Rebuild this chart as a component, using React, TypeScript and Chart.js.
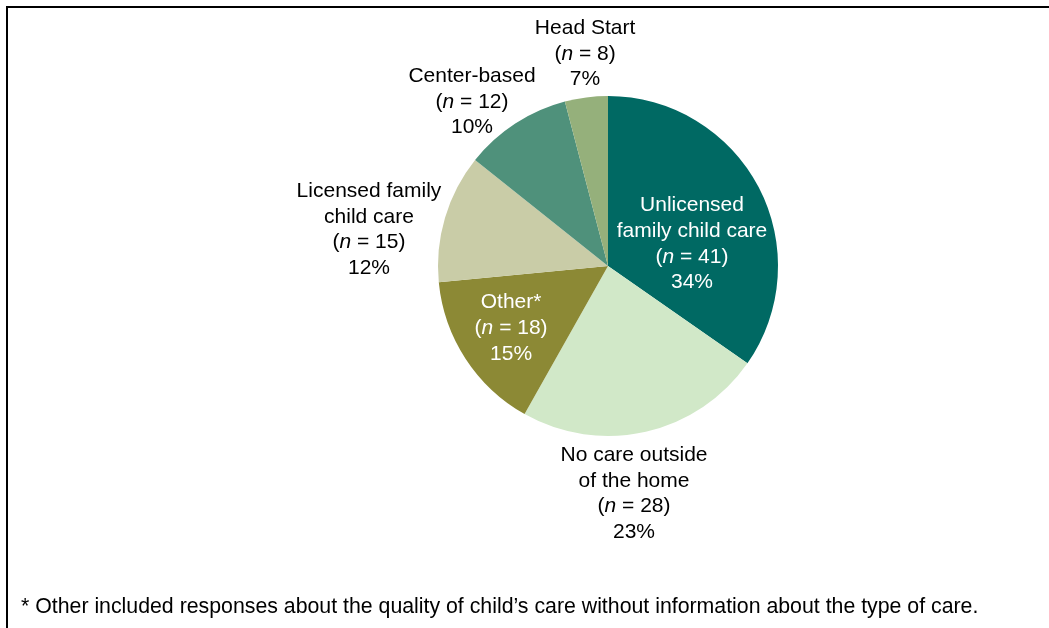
import React, { useEffect, useRef } from "react";
import { Chart, registerables } from "chart.js";

Chart.register(...registerables);

const categories = [
  "Unlicensed family child care",
  "No care outside of the home",
  "Other*",
  "Licensed family child care",
  "Center-based",
  "Head Start",
];
// slice sizes as drawn in the picture
const sliceValues = [34, 23, 15, 12, 10, 4];
const counts = [41, 28, 18, 15, 12, 8];
const percentLabels = ["34%", "23%", "15%", "12%", "10%", "7%"];
const nameLines = [
  ["Unlicensed", "family child care"],
  ["No care outside", "of the home"],
  ["Other*"],
  ["Licensed family", "child care"],
  ["Center-based"],
  ["Head Start"],
];
const sliceColors = ["#006963", "#d1e8c8", "#8c8935", "#c9cca7", "#4f917b", "#95b07b"];
const footnote =
  "* Other included responses about the quality of child\u2019s care without information about the type of care.";

// label placement relative to pie centre, in units of radius (block centre)
const labelPos = [
  { dx: 0.494, dy: -0.13, color: "#ffffff" },
  { dx: 0.153, dy: 1.34, color: "#000000" },
  { dx: -0.57, dy: 0.365, color: "#ffffff" },
  { dx: -1.406, dy: -0.213, color: "#000000" },
  { dx: -0.8, dy: -0.966, color: "#000000" },
  { dx: -0.135, dy: -1.248, color: "#000000" },
];

const FONT = "Liberation Sans, Arial, Helvetica, sans-serif";
const FS = 21;
const FOOT_FS = 21.3;
const LH = 25.7;

type Seg = { t: string; italic?: boolean };

function drawSegs(ctx: CanvasRenderingContext2D, segs: Seg[], cx: number, cy: number) {
  let total = 0;
  const widths = segs.map((s) => {
    ctx.font = `${s.italic ? "italic " : ""}${FS}px ${FONT}`;
    const w = ctx.measureText(s.t).width;
    total += w;
    return w;
  });
  let x = cx - total / 2;
  segs.forEach((s, i) => {
    ctx.font = `${s.italic ? "italic " : ""}${FS}px ${FONT}`;
    ctx.fillText(s.t, x, cy);
    x += widths[i];
  });
}

const labelPlugin = {
  id: "sliceLabels",
  afterDatasetsDraw(chart: any) {
    const ctx: CanvasRenderingContext2D = chart.ctx;
    const meta = chart.getDatasetMeta(0);
    ctx.save();
    ctx.textAlign = "left";
    ctx.textBaseline = "middle";
    meta.data.forEach((arc: any, i: number) => {
      const r = arc.outerRadius;
      const cx = arc.x + labelPos[i].dx * r;
      const lines: Seg[][] = nameLines[i].map((t) => [{ t }]);
      lines.push([{ t: "(" }, { t: "n", italic: true }, { t: ` = ${counts[i]})` }]);
      lines.push([{ t: percentLabels[i] }]);
      const top = arc.y + labelPos[i].dy * r - ((lines.length - 1) * LH) / 2;
      ctx.fillStyle = labelPos[i].color;
      lines.forEach((segs, k) => drawSegs(ctx, segs, cx, top + k * LH));
    });
    ctx.restore();
  },
};

const framePlugin = {
  id: "frame",
  beforeDraw(chart: any) {
    const ctx: CanvasRenderingContext2D = chart.ctx;
    ctx.save();
    ctx.fillStyle = "#ffffff";
    ctx.fillRect(0, 0, chart.width, chart.height);
    ctx.strokeStyle = "#000000";
    ctx.lineWidth = 2;
    ctx.beginPath();
    ctx.moveTo(7, chart.height);
    ctx.lineTo(7, 7);
    ctx.lineTo(chart.width, 7);
    ctx.stroke();
    ctx.fillStyle = "#000000";
    ctx.font = `${FOOT_FS}px ${FONT}`;
    ctx.textBaseline = "middle";
    ctx.textAlign = "left";
    ctx.fillText(footnote, 21, 607);
    ctx.restore();
  },
};

export default function App() {
  const ref = useRef<HTMLCanvasElement>(null);
  useEffect(() => {
    if (!ref.current) return;
    const chart = new Chart(ref.current, {
      type: "pie",
      data: {
        labels: categories,
        datasets: [
          {
            data: sliceValues,
            backgroundColor: sliceColors,
            borderWidth: 0,
          },
        ],
      },
      options: {
        animation: false,
        responsive: false,
        maintainAspectRatio: false,
        layout: { padding: { top: 96, bottom: 192, left: 438, right: 271 } },
        plugins: {
          legend: { display: false },
          tooltip: { enabled: false },
          title: { display: false },
        },
      },
      plugins: [framePlugin, labelPlugin],
    });
    return () => chart.destroy();
  }, []);
  return (
    <div style={{ position: "fixed", left: 0, top: 0, width: 1049, height: 628, background: "#fff" }}>
      <canvas ref={ref} width={1049} height={628} style={{ display: "block", width: 1049, height: 628 }} />
    </div>
  );
}
